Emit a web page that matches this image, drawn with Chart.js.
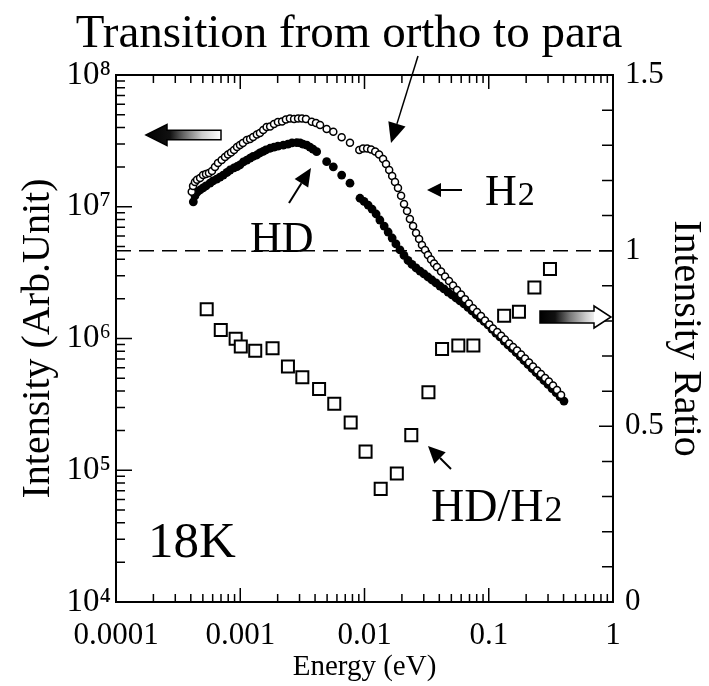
<!DOCTYPE html>
<html>
<head>
<meta charset="utf-8">
<script src="https://cdn.jsdelivr.net/npm/chart.js@4.4.1/dist/chart.umd.min.js"></script>
<style>
  html, body { margin: 0; padding: 0; background: #fff; }
  canvas { display: block; }
</style>
</head>
<body>
<canvas id="grafico" width="709" height="686"></canvas>
<script>
// H2 (open circles), intensity vs energy
const energyH2 = [4.07e-4, 4.17e-4, 4.32e-4, 4.49e-4, 4.75e-4, 5.02e-4, 5.30e-4, 5.60e-4, 5.92e-4, 6.26e-4,
  6.62e-4, 7.09e-4, 7.54e-4, 7.97e-4, 8.43e-4, 8.91e-4, 9.42e-4, 9.95e-4, 1.05e-3, 1.13e-3,
  1.20e-3, 1.27e-3, 1.36e-3, 1.44e-3, 1.53e-3, 1.63e-3, 1.74e-3, 1.87e-3, 2.01e-3, 2.17e-3,
  2.33e-3, 2.51e-3, 2.71e-3, 2.92e-3, 3.14e-3, 3.38e-3, 3.76e-3, 4.07e-3, 4.39e-3, 4.96e-3,
  5.61e-3, 6.55e-3, 7.64e-3, 9.08e-3, 9.73e-3, 1.05e-2, 1.13e-2, 1.22e-2, 1.31e-2, 1.41e-2,
  1.49e-2, 1.58e-2, 1.67e-2, 1.76e-2, 1.86e-2, 1.97e-2, 2.08e-2, 2.20e-2, 2.32e-2, 2.46e-2,
  2.60e-2, 2.75e-2, 2.90e-2, 3.07e-2, 3.24e-2, 3.43e-2, 3.63e-2, 3.83e-2, 4.13e-2, 4.45e-2,
  4.79e-2, 5.16e-2, 5.55e-2, 5.98e-2, 6.44e-2, 6.93e-2, 7.47e-2, 8.04e-2, 8.66e-2, 9.33e-2,
  0.101, 0.108, 0.117, 0.126, 0.135, 0.146, 0.157, 0.169, 0.182, 0.196,
  0.211, 0.227, 0.245, 0.263, 0.284, 0.305, 0.329, 0.354, 0.382];
const intensityH2 = [1.30e7, 1.44e7, 1.54e7, 1.60e7, 1.65e7, 1.74e7, 1.77e7, 1.80e7, 1.87e7, 2.00e7,
  2.15e7, 2.26e7, 2.39e7, 2.49e7, 2.58e7, 2.70e7, 2.84e7, 2.94e7, 3.05e7, 3.21e7,
  3.27e7, 3.38e7, 3.54e7, 3.63e7, 3.82e7, 4.03e7, 4.07e7, 4.25e7, 4.40e7, 4.44e7,
  4.60e7, 4.68e7, 4.63e7, 4.68e7, 4.68e7, 4.63e7, 4.42e7, 4.32e7, 4.17e7, 3.89e7,
  3.71e7, 3.37e7, 3.06e7, 2.70e7, 2.77e7, 2.77e7, 2.72e7, 2.63e7, 2.49e7, 2.30e7,
  2.11e7, 1.90e7, 1.71e7, 1.54e7, 1.39e7, 1.21e7, 1.05e7, 9.28e6, 8.07e6, 7.14e6,
  6.32e6, 5.69e6, 5.13e6, 4.70e6, 4.30e6, 3.98e6, 3.71e6, 3.49e6, 3.23e6, 2.96e6,
  2.73e6, 2.53e6, 2.33e6, 2.16e6, 1.99e6, 1.84e6, 1.70e6, 1.59e6, 1.48e6, 1.37e6,
  1.28e6, 1.19e6, 1.12e6, 1.05e6, 9.83e5, 9.17e5, 8.62e5, 8.11e5, 7.56e5, 7.05e5,
  6.58e5, 6.13e5, 5.72e5, 5.38e5, 5.01e5, 4.72e5, 4.40e5, 4.07e5, 3.73e5];

// HD (filled circles)
const energyHD = [4.19e-4, 4.32e-4, 4.49e-4, 4.75e-4, 5.02e-4, 5.30e-4, 5.71e-4, 6.04e-4, 6.46e-4, 6.87e-4,
  7.30e-4, 7.82e-4, 8.27e-4, 8.91e-4, 9.42e-4, 9.95e-4, 1.06e-3, 1.13e-3, 1.20e-3, 1.27e-3,
  1.36e-3, 1.44e-3, 1.53e-3, 1.61e-3, 1.74e-3, 1.87e-3, 2.01e-3, 2.22e-3, 2.42e-3, 2.61e-3,
  2.85e-3, 3.03e-3, 3.20e-3, 3.43e-3, 3.64e-3, 3.85e-3, 4.12e-3, 4.96e-3, 5.61e-3, 6.55e-3,
  7.64e-3, 9.20e-3, 9.91e-3, 1.07e-2, 1.15e-2, 1.24e-2, 1.33e-2, 1.44e-2, 1.55e-2, 1.67e-2,
  1.79e-2, 1.93e-2, 2.08e-2, 2.24e-2, 2.41e-2, 2.60e-2, 2.80e-2, 3.01e-2, 3.24e-2, 3.49e-2,
  3.76e-2, 4.05e-2, 4.36e-2, 4.70e-2, 5.06e-2, 5.45e-2, 5.87e-2, 6.32e-2, 6.81e-2, 7.33e-2,
  7.90e-2, 8.51e-2, 9.16e-2, 9.86e-2, 0.106, 0.114, 0.123, 0.133, 0.143, 0.154,
  0.166, 0.179, 0.192, 0.207, 0.223, 0.240, 0.259, 0.278, 0.300, 0.323,
  0.348, 0.375, 0.403];
const intensityHD = [1.09e7, 1.21e7, 1.29e7, 1.34e7, 1.39e7, 1.44e7, 1.51e7, 1.57e7, 1.62e7, 1.68e7,
  1.74e7, 1.82e7, 1.90e7, 1.97e7, 2.02e7, 2.08e7, 2.19e7, 2.26e7, 2.34e7, 2.41e7,
  2.47e7, 2.56e7, 2.63e7, 2.70e7, 2.78e7, 2.84e7, 2.89e7, 2.94e7, 2.99e7, 3.05e7,
  3.07e7, 3.05e7, 2.99e7, 2.94e7, 2.84e7, 2.74e7, 2.62e7, 2.20e7, 2.01e7, 1.74e7,
  1.51e7, 1.16e7, 1.10e7, 1.03e7, 9.61e6, 8.81e6, 7.93e6, 7.14e6, 6.43e6, 5.79e6,
  5.22e6, 4.70e6, 4.27e6, 3.91e6, 3.65e6, 3.43e6, 3.25e6, 3.09e6, 2.93e6, 2.78e6,
  2.64e6, 2.50e6, 2.38e6, 2.25e6, 2.14e6, 2.03e6, 1.93e6, 1.83e6, 1.72e6, 1.62e6,
  1.52e6, 1.43e6, 1.35e6, 1.27e6, 1.18e6, 1.10e6, 1.03e6, 9.57e5, 8.93e5, 8.40e5,
  7.83e5, 7.30e5, 6.81e5, 6.35e5, 5.92e5, 5.52e5, 5.15e5, 4.80e5, 4.48e5, 4.17e5,
  3.89e5, 3.60e5, 3.35e5];

// HD/H2 intensity ratio (squares, right axis)
const energyRatio = [5.37e-4, 6.97e-4, 9.18e-4, 1.01e-3, 1.32e-3, 1.82e-3, 2.42e-3, 3.16e-3, 4.31e-3, 5.71e-3,
  7.74e-3, 1.02e-2, 1.35e-2, 1.82e-2, 2.38e-2, 3.27e-2, 4.21e-2, 5.69e-2, 7.52e-2, 0.133,
  0.175, 0.233, 0.311];
const ratioHDH2 = [0.833, 0.774, 0.749, 0.727, 0.715, 0.722, 0.670, 0.640, 0.606, 0.564,
  0.511, 0.428, 0.322, 0.366, 0.475, 0.597, 0.720, 0.730, 0.730, 0.815,
  0.826, 0.895, 0.948];

const referenceRatio = 1;

const xTicks = [0.0001, 0.001, 0.01, 0.1, 1];
const xTickLabels = ["0.0001", "0.001", "0.01", "0.1", "1"];
const yTicks = [1e4, 1e5, 1e6, 1e7, 1e8];
const yTickLabels = ["10⁴", "10⁵", "10⁶", "10⁷", "10⁸"];
const ratioTicks = [0, 0.5, 1, 1.5];
const ratioTickLabels = ["0", "0.5", "1", "1.5"];

const SERIF = '"Liberation Serif", "Times New Roman", serif';
Chart.defaults.font.family = SERIF;
Chart.defaults.color = "#000";

function pares(xs, ys) {
  return xs.map((x, i) => ({ x: x, y: ys[i] }));
}

function seta(ctx, x1, y1, x2, y2, headLen, headHalf, lw) {
  const ang = Math.atan2(y2 - y1, x2 - x1);
  const bx = x2 - headLen * Math.cos(ang);
  const by = y2 - headLen * Math.sin(ang);
  ctx.lineWidth = lw;
  ctx.beginPath();
  ctx.moveTo(x1, y1);
  ctx.lineTo(bx, by);
  ctx.stroke();
  ctx.beginPath();
  ctx.moveTo(x2, y2);
  ctx.lineTo(bx + headHalf * Math.sin(ang), by - headHalf * Math.cos(ang));
  ctx.lineTo(bx - headHalf * Math.sin(ang), by + headHalf * Math.cos(ang));
  ctx.closePath();
  ctx.fill();
}

function textoComIndice(ctx, base, indice, x, y, size, subSize) {
  ctx.textAlign = "left";
  ctx.font = `${size}px ${SERIF}`;
  ctx.fillText(base, x, y);
  const w = ctx.measureText(base).width;
  ctx.font = `${subSize}px ${SERIF}`;
  ctx.fillText(indice, x + w + 1, y);
}

const moldura = {
  id: "moldura",
  beforeDraw(chart) {
    const ctx = chart.ctx;
    ctx.save();
    ctx.fillStyle = "#fff";
    ctx.fillRect(0, 0, chart.width, chart.height);
    ctx.restore();
  },
  beforeDatasetsDraw(chart) {
    const { ctx, chartArea: a, scales } = chart;
    ctx.save();
    ctx.strokeStyle = "#000";
    ctx.lineWidth = 1.5;
    ctx.beginPath();
    // x ticks (bottom and top, inward)
    for (let e = -4; e <= 0; e++) {
      for (let m = 1; m <= 9; m++) {
        const v = m * Math.pow(10, e);
        if (v > 1.0001) break;
        const px = scales.x.getPixelForValue(v);
        const len = m === 1 ? 14 : 8;
        ctx.moveTo(px, a.bottom); ctx.lineTo(px, a.bottom - len);
        ctx.moveTo(px, a.top); ctx.lineTo(px, a.top + len);
      }
    }
    // left log ticks
    for (let e = 4; e <= 8; e++) {
      for (let m = 1; m <= 9; m++) {
        const v = m * Math.pow(10, e);
        if (v > 1.0001e8) break;
        const py = scales.y.getPixelForValue(v);
        const len = m === 1 ? 16 : 9;
        ctx.moveTo(a.left, py); ctx.lineTo(a.left + len, py);
      }
    }
    // right ratio ticks
    for (let k = 0; k <= 15; k++) {
      const py = scales.y2.getPixelForValue(k / 10);
      const len = k % 5 === 0 ? 14 : 11;
      ctx.moveTo(a.right, py); ctx.lineTo(a.right - len, py);
    }
    ctx.stroke();
    ctx.lineWidth = 2;
    ctx.strokeRect(a.left, a.top, a.right - a.left, a.bottom - a.top);
    ctx.restore();
  },
  afterDraw(chart) {
    const ctx = chart.ctx;
    ctx.save();
    ctx.fillStyle = "#000";
    ctx.strokeStyle = "#000";
    ctx.textBaseline = "alphabetic";

    ctx.textAlign = "center";
    ctx.font = `47px ${SERIF}`;
    ctx.fillText("Transition from ortho to para", 349, 47);

    ctx.textAlign = "left";
    ctx.font = `44px ${SERIF}`;
    ctx.fillText("HD", 250, 252);
    textoComIndice(ctx, "H", "2", 485, 205, 44, 34);
    textoComIndice(ctx, "HD/H", "2", 431, 521, 46, 36);
    ctx.font = `51px ${SERIF}`;
    ctx.fillText("18K", 148, 557);

    seta(ctx, 418, 56, 391, 143, 20, 9, 1.5);
    seta(ctx, 462, 190, 427, 190, 14, 7, 2);
    seta(ctx, 289, 203, 311, 168, 18, 8, 2);
    seta(ctx, 451, 469, 428, 446, 17, 8, 2);

    // block arrow pointing to the left axis
    let g = ctx.createLinearGradient(146, 0, 221, 0);
    g.addColorStop(0, "#000");
    g.addColorStop(0.32, "#111");
    g.addColorStop(0.5, "#666");
    g.addColorStop(0.75, "#ccc");
    g.addColorStop(1, "#fff");
    ctx.beginPath();
    ctx.moveTo(146, 135);
    ctx.lineTo(167, 124.5);
    ctx.lineTo(167, 130.3);
    ctx.lineTo(221, 130.3);
    ctx.lineTo(221, 139.7);
    ctx.lineTo(167, 139.7);
    ctx.lineTo(167, 145.5);
    ctx.closePath();
    ctx.fillStyle = g;
    ctx.fill();
    ctx.lineWidth = 1.5;
    ctx.stroke();

    // block arrow pointing to the right axis
    g = ctx.createLinearGradient(540, 0, 594, 0);
    g.addColorStop(0, "#000");
    g.addColorStop(0.28, "#111");
    g.addColorStop(0.55, "#777");
    g.addColorStop(0.85, "#ccc");
    g.addColorStop(1, "#eee");
    ctx.fillStyle = g;
    ctx.fillRect(540, 311, 54, 12);
    ctx.beginPath();
    ctx.moveTo(594, 306);
    ctx.lineTo(611, 317);
    ctx.lineTo(594, 328);
    ctx.closePath();
    ctx.fillStyle = "#fff";
    ctx.fill();
    ctx.beginPath();
    ctx.moveTo(540, 311);
    ctx.lineTo(594, 311);
    ctx.lineTo(594, 306);
    ctx.lineTo(611, 317);
    ctx.lineTo(594, 328);
    ctx.lineTo(594, 323);
    ctx.lineTo(540, 323);
    ctx.closePath();
    ctx.stroke();
    ctx.restore();
  }
};

new Chart(document.getElementById("grafico"), {
  type: "scatter",
  data: {
    datasets: [
      {
        label: "H2",
        data: pares(energyH2, intensityH2),
        yAxisID: "y",
        pointStyle: "circle",
        pointRadius: 3.5,
        pointBorderWidth: 1.5,
        pointBackgroundColor: "#fff",
        pointBorderColor: "#000"
      },
      {
        label: "HD",
        data: pares(energyHD, intensityHD),
        yAxisID: "y",
        pointStyle: "circle",
        pointRadius: 4.4,
        pointBorderWidth: 0,
        pointBackgroundColor: "#000",
        pointBorderColor: "#000"
      },
      {
        label: "HD/H2",
        data: pares(energyRatio, ratioHDH2),
        yAxisID: "y2",
        pointStyle: "rect",
        pointRadius: 8.5,
        pointBorderWidth: 2,
        pointBackgroundColor: "#fff",
        pointBorderColor: "#000"
      },
      {
        label: "ratio = 1",
        data: [{ x: xTicks[0], y: referenceRatio }, { x: xTicks[xTicks.length - 1], y: referenceRatio }],
        yAxisID: "y2",
        showLine: true,
        pointRadius: 0,
        borderColor: "#000",
        borderWidth: 1.5,
        borderDash: [15, 8]
      }
    ]
  },
  options: {
    responsive: false,
    animation: false,
    devicePixelRatio: 1,
    layout: { padding: { top: 75, left: 0, right: 0, bottom: 0 } },
    plugins: { legend: { display: false }, tooltip: { enabled: false } },
    scales: {
      x: {
        type: "logarithmic",
        min: 1e-4,
        max: 1,
        afterFit: s => { s.height = 84; },
        afterBuildTicks: s => { s.ticks = xTicks.map(v => ({ value: v })); },
        grid: { display: false, drawTicks: false },
        border: { display: false },
        ticks: {
          autoSkip: false, maxRotation: 0, padding: 15,
          font: { size: 31 },
          callback: (v, i) => xTickLabels[i]
        },
        title: {
          display: true, text: "Energy (eV)",
          font: { size: 29, lineHeight: 1 },
          padding: { top: 0, bottom: 4 }
        }
      },
      y: {
        type: "logarithmic",
        position: "left",
        min: 1e4,
        max: 1e8,
        afterFit: s => { s.width = 116; },
        afterBuildTicks: s => { s.ticks = yTicks.map(v => ({ value: v })); },
        grid: { display: false, drawTicks: false },
        border: { display: false },
        ticks: {
          padding: 5,
          font: { size: 33 },
          callback: (v, i) => yTickLabels[i]
        },
        title: {
          display: true, text: "Intensity (Arb.Unit)",
          font: { size: 40, lineHeight: 1 },
          padding: { top: 18, bottom: 0 }
        }
      },
      y2: {
        type: "linear",
        position: "right",
        min: 0,
        max: 1.5,
        afterFit: s => { s.width = 96; },
        afterBuildTicks: s => { s.ticks = ratioTicks.map(v => ({ value: v })); },
        grid: { display: false, drawTicks: false },
        border: { display: false },
        ticks: {
          padding: 12,
          font: { size: 31 },
          callback: (v, i) => ratioTickLabels[i]
        },
        title: {
          display: true, text: "Intensity Ratio",
          font: { size: 40, lineHeight: 1 },
          padding: { top: 4, bottom: 0 }
        }
      }
    }
  },
  plugins: [moldura]
});
</script>
</body>
</html>
